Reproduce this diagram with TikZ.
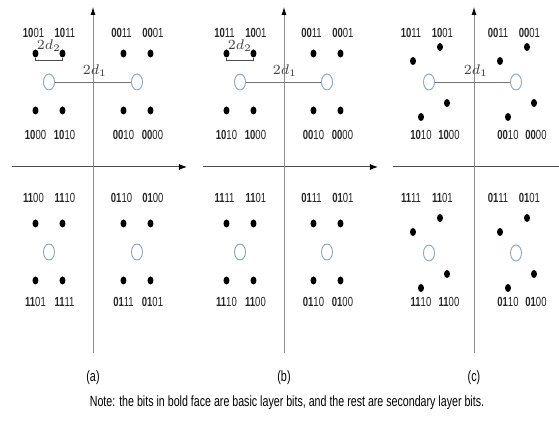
\documentclass[tikz,border=0pt]{standalone}
\usepackage{fontspec}
\setmainfont{Liberation Sans}
\newfontfamily\narrowfont[FakeStretch=0.72]{Liberation Sans}
\usetikzlibrary{arrows.meta,shapes.geometric,calc}

\definecolor{ctrblue}{RGB}{140,165,190}
\newcommand\lbits[4]{\textbf{#1#2}#3#4}

\tikzset{
  sym/.style={ellipse, fill=black, inner sep=0pt, minimum width=3pt, minimum height=4pt},
  ctr/.style={ellipse, draw=ctrblue, fill=white, line width=0.45pt, inner sep=0pt, minimum width=5.5pt, minimum height=8pt},
  bits/.style={font=\narrowfont\fontsize{6.6}{8}\selectfont, text=black!85, inner sep=0pt},
  dist/.style={font=\fontsize{6.8}{8}\selectfont, text=black!75, inner sep=0pt},
  haxis/.style={line width=0.5pt, black!70, -{Latex[black,length=4pt,width=3pt]}},
  vaxis/.style={line width=0.4pt, black!45, -{Latex[black,length=4pt,width=2.5pt]}},
  dline/.style={line width=0.4pt, black!55},
  % dot offsets from the circle (xshift right, yshift up)
  tl-a/.style={xshift=-6.75pt, yshift=14.25pt}, tr-a/.style={xshift=6.75pt, yshift=14.25pt},
  bl-a/.style={xshift=-6.75pt, yshift=-14.25pt}, br-a/.style={xshift=6.75pt, yshift=-14.25pt},
  tl-b/.style={tl-a}, tr-b/.style={tr-a}, bl-b/.style={bl-a}, br-b/.style={br-a},
  tl-c/.style={xshift=-8pt, yshift=10.5pt}, tr-c/.style={xshift=5.5pt, yshift=17.5pt},
  bl-c/.style={xshift=-4pt, yshift=-17.5pt}, br-c/.style={xshift=9pt, yshift=-10.5pt},
}

\begin{document}
\begin{tikzpicture}[x=0.5pt, y=-0.5pt]
    \useasboundingbox (0,0) rectangle (559,421);

    %axis
    \coordinate (a-w) at (12,167);  \coordinate (a-e) at (187,167);
    \coordinate (b-w) at (203,167); \coordinate (b-e) at (378,167);
    \coordinate (c-w) at (393,167); \coordinate (c-e) at (559,167);
    \draw[haxis] (a-w) -- (a-e);
    \draw[haxis] (b-w) -- (b-e);
    \draw[line width=0.5pt, black!70] (c-w) -- (c-e);
    \foreach \p/\ax in {a/93, b/284, c/474} {
        \coordinate (\p-s) at (\ax,353);
        \coordinate (\p-n) at (\ax,7);
        \draw[vaxis] (\p-s) -- (\p-n);
        \node[font=\narrowfont\fontsize{7.5}{9}\selectfont] (\p-cap) at (\ax,378) {(\p)};
    }

    %constellation points
    \foreach \p/\q/\cx/\cy/\ty/\by/\btl/\btr/\bbl/\bbr in {
        a/ul/49/82/33/135/1001/1011/1000/1010,
        a/ur/137/82/33/135/0011/0001/0010/0000,
        a/ll/49/252/198/302/1100/1110/1101/1111,
        a/lr/137/252/198/302/0110/0100/0111/0101,
        b/ul/240/82/33/135/1011/1001/1010/1000,
        b/ur/327/82/33/135/0011/0001/0010/0000,
        b/ll/240/252/198/302/1111/1101/1110/1100,
        b/lr/327/252/198/302/0111/0101/0110/0100,
        c/ul/429/82/33/135/1011/1001/1010/1000,
        c/ur/516/82/33/135/0011/0001/0010/0000,
        c/ll/429/253/198/302/1111/1101/1110/1100,
        c/lr/516/253/198/302/0111/0101/0110/0100} {
        \node[ctr] (\p-\q) at (\cx,\cy) {};
        \node[sym, tl-\p] (\p-\q-tl) at (\p-\q) {};
        \node[sym, tr-\p] (\p-\q-tr) at (\p-\q) {};
        \node[sym, bl-\p] (\p-\q-bl) at (\p-\q) {};
        \node[sym, br-\p] (\p-\q-br) at (\p-\q) {};
        \node[bits, xshift=-1pt] (\p-\q-tl-t) at (\p-\q-tl |- 0,\ty) {\expandafter\lbits\btl};
        \node[bits, xshift=1.2pt] (\p-\q-tr-t) at (\p-\q-tr |- 0,\ty) {\expandafter\lbits\btr};
        \node[bits] (\p-\q-bl-t) at (\p-\q-bl |- 0,\by) {\expandafter\lbits\bbl};
        \node[bits, xshift=1pt] (\p-\q-br-t) at (\p-\q-br |- 0,\by) {\expandafter\lbits\bbr};
    }

    %distances
    \foreach \p/\ax in {a/95, b/285, c/476} {
        \draw[dline] (\p-ul) -- (\p-ur);
        \node[dist] (\p-d1) at (\ax,71) {$2d_1$};
    }
    \foreach \p in {a, b} {
        \draw[dline, black!70] (\p-ul-tl) -- ++(0,7) -| (\p-ul-tr);
        \node[dist] (\p-d2) at ([yshift=4pt]$(\p-ul-tl)!0.5!(\p-ul-tr)$) {$2d_2$};
    }

    %note
    \node[font=\narrowfont\fontsize{7.4}{9}\selectfont] (note) at (287,403)
        {Note: the bits in bold face are basic layer bits, and the rest are secondary layer bits.};
\end{tikzpicture}
\end{document}
